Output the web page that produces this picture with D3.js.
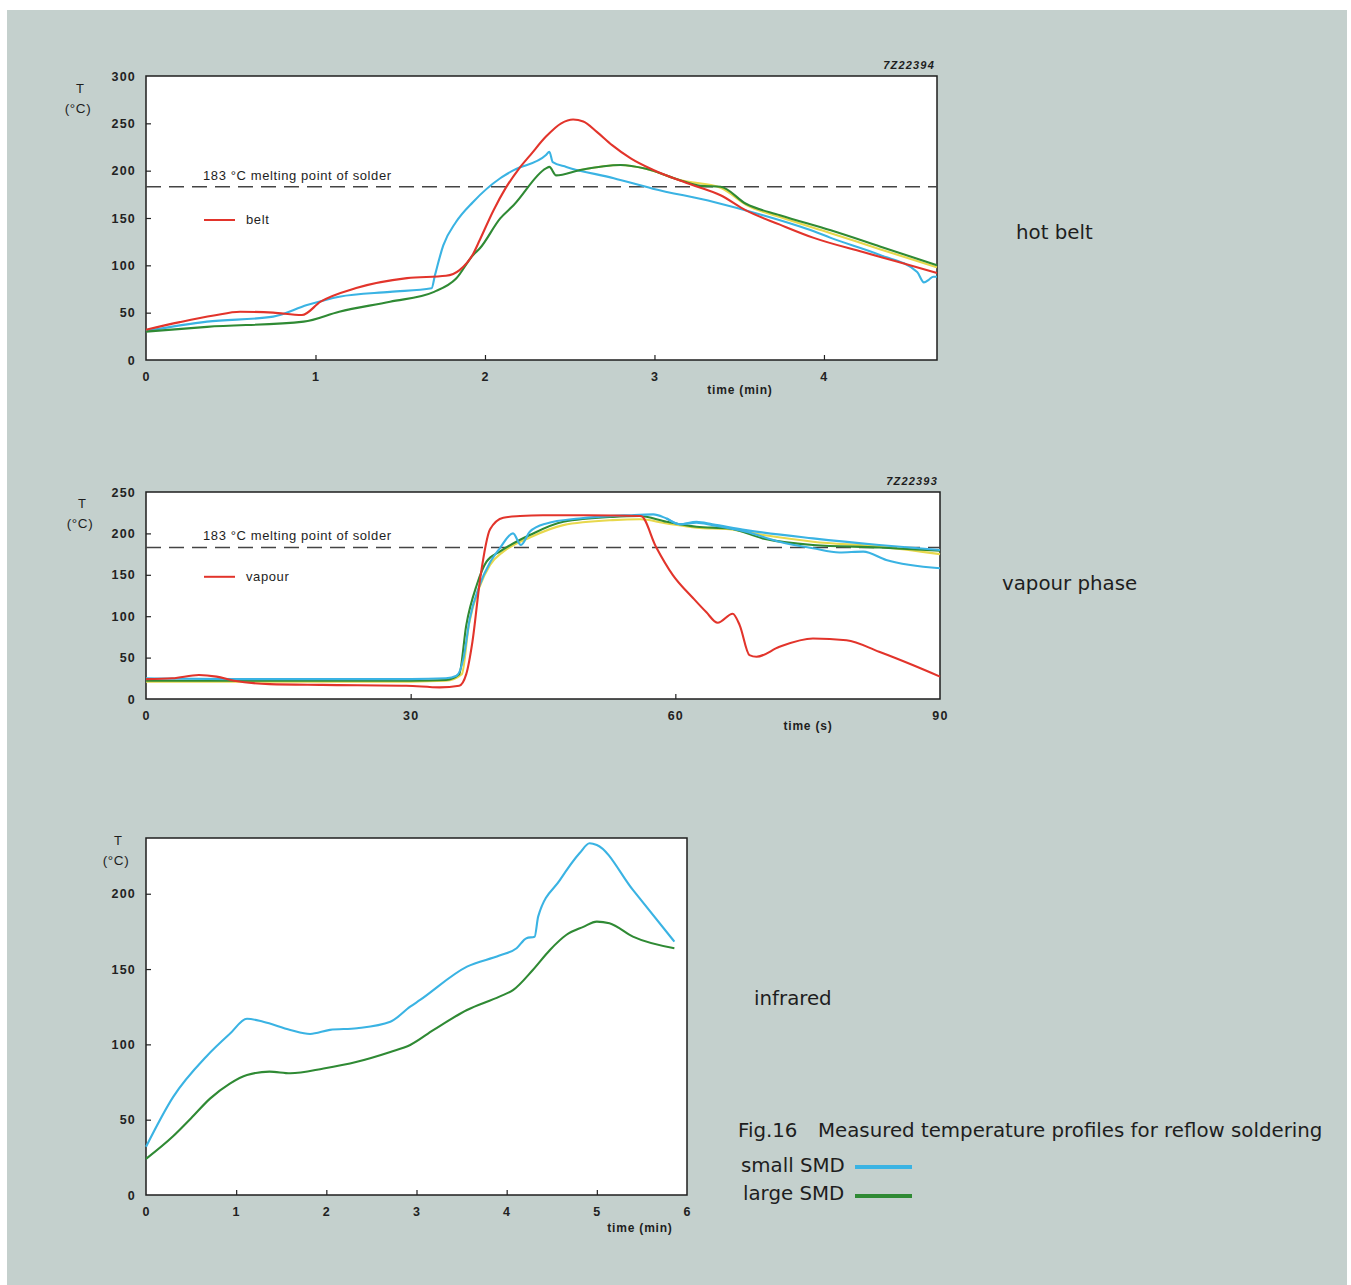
<!DOCTYPE html>
<html>
<head>
<meta charset="utf-8">
<script src="https://cdn.jsdelivr.net/npm/d3@7"></script>
<style>
  body { margin: 0; background: #fff; }
  svg { display: block; font-family: "Liberation Sans", Arial, sans-serif; }
  .tick text { font-size: 12.5px; font-weight: bold; fill: #222; letter-spacing: 1.2px; }
  .tick line { stroke: #222; stroke-width: 1.2; }
</style>
</head>
<body>
<svg id="chart" width="1351" height="1285"></svg>
<script>
// ---- hot belt (time in min, T in degC) ----
const beltRed = [[0,32],[0.2,40],[0.4,47],[0.555,51],[0.75,50],[0.92,47.5],[1.03,61.6],[1.24,76],[1.54,86.5],[1.77,89],[1.85,95],[1.93,112],[1.97,127],[2.05,158],[2.12,181],[2.2,202],[2.27,217],[2.36,236],[2.45,250],[2.52,254],[2.58,252],[2.66,241],[2.75,227],[2.86,213],[2.99,201],[3.19,187],[3.39,174],[3.54,158],[3.74,143],[3.94,129],[4.23,114],[4.43,104],[4.667,92]];
const beltSmall = [[0,30.5],[0.36,40.5],[0.75,45.8],[0.95,58],[1.14,66.9],[1.44,72],[1.685,75.7],[1.705,89.7],[1.754,121],[1.83,146],[1.93,167],[2.09,192],[2.17,200.6],[2.36,216.5],[2.38,220],[2.4,209],[2.48,204],[2.76,192],[2.99,181],[3.35,167],[3.64,153],[3.94,136],[4.04,129],[4.33,111],[4.55,93],[4.59,82],[4.62,85],[4.645,88],[4.667,88]];
const beltLarge = [[0,30],[0.36,35],[0.93,40.5],[1.14,51],[1.44,61.6],[1.7,72],[1.83,86],[1.93,111],[1.97,118],[2.09,149.6],[2.17,163.7],[2.36,202.4],[2.38,204],[2.42,195],[2.56,200.6],[2.8,206],[2.95,202],[3.15,190],[3.27,184],[3.39,183],[3.54,165],[3.74,153],[4.04,137],[4.33,120],[4.667,100]];
const beltYellow = [[2.56,200.6],[2.8,206],[2.95,202],[3.15,190],[3.39,182],[3.54,164],[3.74,151],[4.04,134],[4.33,117],[4.667,98]];

// ---- vapour phase (time in s) ----
const vapourRed = [[0,24],[3,25],[6,29],[8,27],[10,22],[14,18],[20,17],[29.5,16],[33.3,14],[35.5,16],[36.3,30],[37,69],[37.9,147],[39,205],[40.5,219],[42.4,221],[45,222],[50,222],[56.1,221],[57.8,184],[59.7,150],[62,122],[63.5,105],[64.8,92],[66.5,103],[67.3,89],[68.4,53],[69.2,51],[71.8,63],[75.6,73],[79.4,71],[83.1,57],[86.9,41],[90,27]];
const vapourSmall = [[0,25],[10,24],[20,24],[30,24],[34,25],[35.2,28],[36,50],[36.7,97],[37.8,137],[39,165],[40.1,182],[41.6,200],[42.5,186],[43.5,202],[45.4,212],[49.1,218],[54.8,222],[57.5,223],[59,218],[60.5,211],[62.4,214],[64.2,211],[68,204],[75.6,194],[83.1,186],[90,180]];
const vapourSmallB = [[59,218],[60.5,211],[62.4,213],[64.2,210],[68,202],[71.8,190],[75.6,182],[78.6,177],[81.3,178],[83.9,168],[90,158]];
const vapourLarge = [[0,22],[10,22],[20,22],[30,22],[34,23],[35.5,30],[36.3,89],[37.5,138],[38.6,166],[40.1,178],[43.5,198],[47.3,214],[52.9,220],[55.9,221],[59,214],[62.4,208],[66.1,206],[69.9,194],[75.6,186],[83.1,183],[90,179]];
const vapourYellow = [[0,21],[10,21],[20,21],[30,21],[34,22],[35.8,30],[36.6,90],[37.8,135],[39,162],[40.5,178],[43.5,195],[47.3,210],[52.9,216],[56,217],[59,212],[62.4,207],[66.1,205],[70,198],[75.6,190],[83.1,184],[90,175]];

// ---- infrared (time in min) ----
const irSmall = [[0,32],[0.3,65],[0.67,92],[0.93,107],[1.12,117],[1.3,115],[1.6,109.6],[1.82,106.9],[2.04,109.6],[2.34,110.7],[2.71,115],[2.93,125],[3.04,129.5],[3.56,151.6],[3.92,159],[4.11,163.8],[4.22,170.5],[4.31,171.5],[4.35,185],[4.59,209],[4.81,227],[4.92,233.5],[5.0,232.4],[5.4,202.5],[5.86,168.2]];
const irLarge = [[0,24],[0.3,39],[0.5,51],[0.71,64],[0.93,74],[1.12,79.7],[1.37,81.9],[1.6,80.8],[1.97,84],[2.34,88.5],[2.71,95],[2.93,99.6],[3.19,109.6],[3.56,122.8],[3.92,131.7],[4.07,136],[4.29,149.4],[4.48,162.7],[4.66,172.6],[4.85,178],[5.0,181.5],[5.14,180.4],[5.4,171.5],[5.86,163.8]];

const meltingPoint = 183;
const beltXTicks = [0, 1, 2, 3, 4];
const beltYTicks = [0, 50, 100, 150, 200, 250, 300];
const vapourXTicks = [0, 30, 60, 90];
const vapourYTicks = [0, 50, 100, 150, 200, 250];
const irXTicks = [0, 1, 2, 3, 4, 5, 6];
const irYTicks = [0, 50, 100, 150, 200];

const RED = "#e2342b", BLUE = "#3ab3e3", GREEN = "#2f8a34", YELLOW = "#e8d84c";
const INK = "#1e1e1e";

const svg = d3.select("#chart");

// page background
svg.append("rect").attr("width", 1351).attr("height", 1285).attr("fill", "#fff");
svg.append("rect").attr("x", 7).attr("y", 10).attr("width", 1340).attr("height", 1275).attr("fill", "#c4d0cd");

function drawPanel(cfg) {
    const g = svg.append("g");
    const x = d3.scaleLinear().domain(cfg.xDomain).range([cfg.left, cfg.right]);
    const y = d3.scaleLinear().domain(cfg.yDomain).range([cfg.bottom, cfg.top]);

    g.append("rect")
        .attr("x", cfg.left).attr("y", cfg.top)
        .attr("width", cfg.right - cfg.left)
        .attr("height", cfg.bottom - cfg.top)
        .attr("fill", "#fff")
        .attr("stroke", INK)
        .attr("stroke-width", 1.5);

    // inward ticks
    const xa = g.append("g")
        .attr("transform", `translate(0,${cfg.bottom})`)
        .call(d3.axisBottom(x).tickValues(cfg.xTicks).tickFormat(d3.format("d"))
            .tickSizeInner(-5).tickSizeOuter(0).tickPadding(12));
    xa.select(".domain").remove();
    xa.selectAll(".tick").filter(d => d === cfg.xDomain[0] || d >= cfg.xDomain[1] - 0.01).select("line").remove();

    const ya = g.append("g")
        .attr("transform", `translate(${cfg.left},0)`)
        .call(d3.axisLeft(y).tickValues(cfg.yTicks).tickFormat(d3.format("d"))
            .tickSizeInner(-5).tickSizeOuter(0).tickPadding(10));
    ya.select(".domain").remove();
    ya.selectAll(".tick").filter(d => d === 0 || d >= cfg.yDomain[1] - 0.01).select("line").remove();

    const line = d3.line()
        .x(d => x(d[0]))
        .y(d => y(d[1]))
        .curve(d3.curveMonotoneX);

    if (cfg.melting) {
        g.append("line")
            .attr("x1", cfg.left).attr("x2", cfg.right)
            .attr("y1", y(meltingPoint)).attr("y2", y(meltingPoint))
            .attr("stroke", "#444")
            .attr("stroke-width", 1.6)
            .attr("stroke-dasharray", "15,8");
        g.append("text")
            .attr("x", cfg.left + 57)
            .attr("y", y(meltingPoint) - 7)
            .attr("font-size", 13)
            .attr("letter-spacing", 0.6)
            .attr("fill", INK)
            .text(`${meltingPoint} °C melting point of solder`);
        g.append("line")
            .attr("x1", cfg.left + 58).attr("x2", cfg.left + 89)
            .attr("y1", y(150) + 2).attr("y2", y(150) + 2)
            .attr("stroke", RED).attr("stroke-width", 2);
        g.append("text")
            .attr("x", cfg.left + 100)
            .attr("y", y(150) + 6)
            .attr("font-size", 13)
            .attr("letter-spacing", 0.6)
            .attr("fill", INK)
            .text(cfg.legendName);
    }

    cfg.series.forEach(s => {
        g.append("path")
            .datum(s.data)
            .attr("fill", "none")
            .attr("stroke", s.color)
            .attr("stroke-width", 2.1)
            .attr("stroke-linejoin", "round")
            .attr("d", line);
    });

    // y title
    g.append("text").attr("x", cfg.tX).attr("y", cfg.tY)
        .attr("text-anchor", "middle").attr("font-size", 13).attr("fill", INK).text("T");
    g.append("text").attr("x", cfg.tX - 2).attr("y", cfg.tY + 20)
        .attr("text-anchor", "middle").attr("font-size", 13.5).attr("letter-spacing", 0.6)
        .attr("fill", INK).text("(°C)");

    // x title
    g.append("text").attr("x", cfg.xTitleX).attr("y", cfg.xTitleY)
        .attr("text-anchor", "middle").attr("font-size", 12).attr("font-weight", "bold")
        .attr("letter-spacing", 0.8).attr("fill", INK).text(cfg.xTitle);

    if (cfg.code) {
        g.append("text").attr("x", cfg.right - 2).attr("y", cfg.top - 7)
            .attr("text-anchor", "end").attr("font-size", 11).attr("font-style", "italic")
            .attr("font-weight", "bold").attr("letter-spacing", 1.2).attr("fill", INK).text(cfg.code);
    }
}

drawPanel({
    left: 146, right: 937, top: 76, bottom: 360,
    xDomain: [0, 4.667], yDomain: [0, 300],
    xTicks: beltXTicks, yTicks: beltYTicks,
    melting: true, legendName: "belt",
    tX: 80, tY: 93, xTitle: "time (min)", xTitleX: 740, xTitleY: 394,
    code: "7Z22394",
    series: [
        { data: beltYellow, color: YELLOW },
        { data: beltSmall, color: BLUE },
        { data: beltLarge, color: GREEN },
        { data: beltRed, color: RED }
    ]
});

drawPanel({
    left: 146, right: 940, top: 492, bottom: 699,
    xDomain: [0, 90], yDomain: [0, 250],
    xTicks: vapourXTicks, yTicks: vapourYTicks,
    melting: true, legendName: "vapour",
    tX: 82, tY: 508, xTitle: "time (s)", xTitleX: 808, xTitleY: 730,
    code: "7Z22393",
    series: [
        { data: vapourYellow, color: YELLOW },
        { data: vapourLarge, color: GREEN },
        { data: vapourSmallB, color: BLUE },
        { data: vapourSmall, color: BLUE },
        { data: vapourRed, color: RED }
    ]
});

drawPanel({
    left: 146, right: 687, top: 838, bottom: 1195,
    xDomain: [0, 6], yDomain: [0, 237],
    xTicks: irXTicks, yTicks: irYTicks,
    melting: false,
    tX: 118, tY: 845, xTitle: "time (min)", xTitleX: 640, xTitleY: 1232,
    series: [
        { data: irLarge, color: GREEN },
        { data: irSmall, color: BLUE }
    ]
});

// side labels
const side = [
    { text: "hot belt", x: 1016, y: 239 },
    { text: "vapour phase", x: 1002, y: 590 },
    { text: "infrared", x: 754, y: 1005 },
    { text: "Fig.16", x: 738, y: 1137 },
    { text: "Measured temperature profiles for reflow soldering", x: 818, y: 1137 },
    { text: "small SMD", x: 741, y: 1172 },
    { text: "large SMD", x: 743, y: 1200 }
];
svg.selectAll(".side")
    .data(side)
    .enter()
    .append("text")
    .attr("class", "side")
    .attr("x", d => d.x)
    .attr("y", d => d.y)
    .attr("font-family", "'DejaVu Sans', sans-serif")
    .attr("font-size", 19.8)
    .attr("fill", INK)
    .text(d => d.text);

[{ color: BLUE, y: 1167 }, { color: GREEN, y: 1196 }].forEach(k => {
    svg.append("line")
        .attr("x1", 855).attr("x2", 912)
        .attr("y1", k.y).attr("y2", k.y)
        .attr("stroke", k.color).attr("stroke-width", 4);
});
</script>
</body>
</html>
